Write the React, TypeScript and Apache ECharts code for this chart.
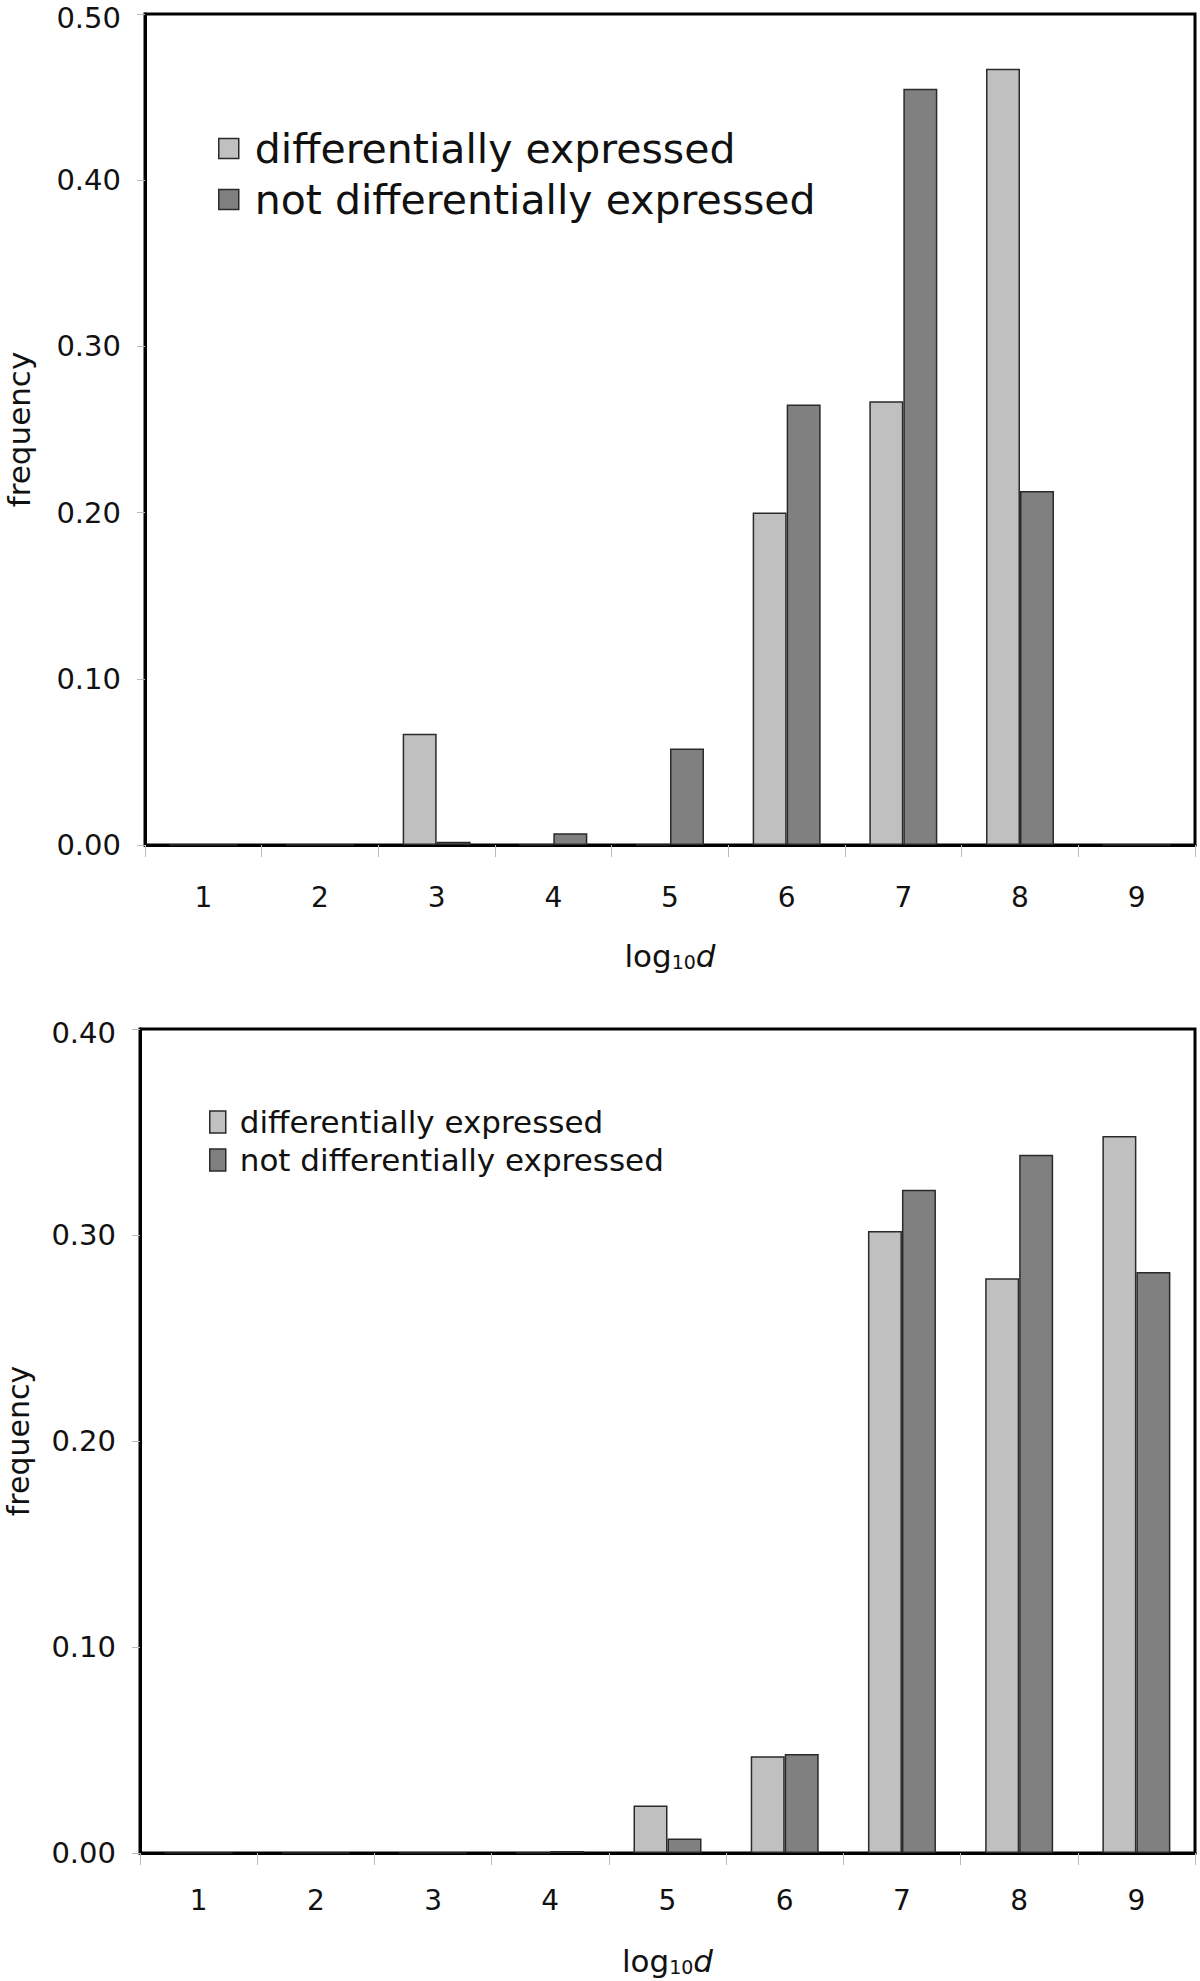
import React, { useEffect, useRef } from "react";
import * as echarts from "echarts";

const categories = ["1", "2", "3", "4", "5", "6", "7", "8", "9"];
const seriesNames = ["differentially expressed", "not differentially expressed"];
const topDiff = [0, 0, 0.067, 0, 0, 0.2, 0.267, 0.467, 0];
const topNotDiff = [0, 0, 0.002, 0.007, 0.058, 0.265, 0.455, 0.213, 0];
const botDiff = [0, 0, 0, 0, 0.023, 0.047, 0.302, 0.279, 0.348];
const botNotDiff = [0, 0, 0, 0.001, 0.007, 0.048, 0.322, 0.339, 0.282];
const topYMax = 0.5;
const botYMax = 0.4;
const yInterval = 0.1;

const FONT = "DejaVu Sans";
const LIGHT = "#c0c0c0";
const DARK = "#808080";
const EDGE = "#2a2a2a";

export default function App() {
  const ref = useRef<HTMLDivElement>(null);
  useEffect(() => {
    if (!ref.current) return;
    const chart = echarts.init(ref.current, undefined, { renderer: "svg" });
    const nameRich = (size: number) => ({
      a: { fontSize: size, fontFamily: FONT, color: "#111", lineHeight: size, verticalAlign: "bottom" },
      b: { fontSize: Math.round(size * 0.6), fontFamily: FONT, color: "#111", lineHeight: Math.round(size * 0.45), verticalAlign: "bottom" },
      c: { fontSize: size, fontFamily: FONT, fontStyle: "italic", color: "#111", lineHeight: size, verticalAlign: "bottom" },
    });
    const xAxis = (gridIndex: number, labelMargin: number, nameGap: number) => ({
      type: "category",
      gridIndex,
      data: categories,
      axisLine: { show: true, lineStyle: { color: "#000", width: 3 } },
      axisTick: { show: true, alignWithLabel: false, length: 12, lineStyle: { color: "#bbb", width: 1 } },
      axisLabel: { fontSize: 28, fontFamily: FONT, color: "#111", margin: labelMargin },
      name: "{a|log}{b|10}{c|d}",
      nameLocation: "middle",
      nameGap,
      nameTextStyle: { rich: nameRich(31) },
      splitLine: { show: false },
    });
    const yAxis = (gridIndex: number, max: number, fontSize: number, nameGap: number, nameSize: number) => ({
      type: "value",
      gridIndex,
      min: 0,
      max,
      interval: yInterval,
      axisLine: { show: true, lineStyle: { color: "#000", width: 3 } },
      axisTick: { show: true, length: 8, lineStyle: { color: "#bbb", width: 1 } },
      axisLabel: {
        fontSize,
        lineHeight: 22,
        fontFamily: FONT,
        color: "#111",
        margin: 24,
        formatter: (v: number) =>
          Math.abs(v - max) < 1e-9 ? "{t|" + v.toFixed(2) + "}" : v.toFixed(2),
        rich: { t: { fontSize, fontFamily: FONT, color: "#111", lineHeight: 22, padding: [7, 0, 0, 0] } },
      },
      splitLine: { show: false },
      name: "frequency",
      nameLocation: "middle",
      nameGap,
      nameTextStyle: { fontSize: nameSize, fontFamily: FONT, color: "#111" },
    });
    const bar = (name: string, data: number[], color: string, idx: number) => ({
      type: "bar",
      name,
      data,
      xAxisIndex: idx,
      yAxisIndex: idx,
      barWidth: 34,
      barGap: "0%",
      itemStyle: { color, borderColor: EDGE, borderWidth: 1.5 },
    });
    chart.setOption({
      animation: false,
      backgroundColor: "#fff",
      grid: [
        { left: 145, right: 5, top: 14, height: 831, outerBoundsMode: "none", containLabel: false, show: true, borderColor: "#000", borderWidth: 3, backgroundColor: "transparent" },
        { left: 140, right: 5, top: 1029, height: 824, outerBoundsMode: "none", containLabel: false, show: true, borderColor: "#000", borderWidth: 3, backgroundColor: "transparent" },
      ],
      xAxis: [xAxis(0, 38, 95), xAxis(1, 33, 92)],
      yAxis: [yAxis(0, topYMax, 29, 111, 31), yAxis(1, botYMax, 29, 107, 30)],
      legend: [
        {
          orient: "vertical",
          left: 213,
          top: 123,
          itemWidth: 20,
          itemHeight: 20,
          itemGap: 10,
          icon: "rect",
          selectedMode: false,
          textStyle: { fontSize: 41, fontFamily: FONT, color: "#111", lineHeight: 40, padding: [0, 0, 0, 11] },
          data: [
            { name: seriesNames[0], itemStyle: { color: LIGHT, borderColor: EDGE, borderWidth: 1.5 } },
            { name: seriesNames[1], itemStyle: { color: DARK, borderColor: EDGE, borderWidth: 1.5 } },
          ],
        },
        {
          orient: "vertical",
          left: 204,
          top: 1101,
          itemWidth: 16,
          itemHeight: 22,
          itemGap: 6,
          icon: "rect",
          selectedMode: false,
          textStyle: { fontSize: 31, fontFamily: FONT, color: "#111", lineHeight: 32, padding: [0, 0, 0, 9] },
          data: [
            { name: seriesNames[0], itemStyle: { color: LIGHT, borderColor: EDGE, borderWidth: 1.5 } },
            { name: seriesNames[1], itemStyle: { color: DARK, borderColor: EDGE, borderWidth: 1.5 } },
          ],
        },
      ],
      series: [
        bar(seriesNames[0], topDiff, LIGHT, 0),
        bar(seriesNames[1], topNotDiff, DARK, 0),
        bar(seriesNames[0], botDiff, LIGHT, 1),
        bar(seriesNames[1], botNotDiff, DARK, 1),
      ],
    });
    return () => chart.dispose();
  }, []);
  return (
    <div
      ref={ref}
      style={{ position: "absolute", left: 0, top: 0, width: 1200, height: 1981, background: "#fff" }}
    />
  );
}
